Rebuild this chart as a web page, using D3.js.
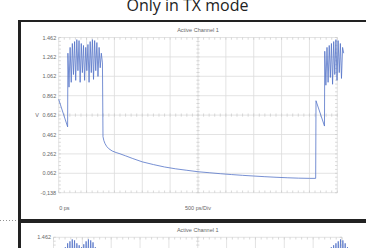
<!DOCTYPE html>
<html>
<head>
<meta charset="UTF-8">
<title>Only in TX mode</title>
<script src="https://d3js.org/d3.v7.min.js"></script>
<style>
  body { margin: 0; background: #fff; overflow: hidden; }
  svg { display: block; }
  .lbl { font-family: "Liberation Sans", Arial, sans-serif; font-size: 5.5px; fill: #666; }
</style>
</head>
<body>
<svg id="chart" width="366" height="248"></svg>
<script>
// y tick labels (volts) and x labels
var yTicks = [1.462, 1.262, 1.062, 0.862, 0.662, 0.462, 0.262, 0.062, -0.138];
var yTickLabels = ["1.462", "1.262", "1.062", "0.862", "0.662", "0.462", "0.262", "0.062", "-0,138"];
var xDivs = [0, 500, 1000, 1500, 2000, 2500, 3000, 3500, 4000, 4500, 5000];

// trace, [time ps, volts]
var rampStart = [[0, 0.824], [160, 0.541]];
var burst1 = [
  [165, 1.30], [185, 0.95], [205, 1.36], [225, 1.00], [245, 1.40], [265, 1.08],
  [285, 1.42], [305, 1.02], [325, 1.44], [345, 1.12], [365, 1.43], [385, 1.00],
  [405, 1.40], [425, 1.10], [445, 1.38], [465, 1.02], [485, 1.36], [505, 1.12],
  [525, 1.39], [545, 1.00], [565, 1.42], [585, 1.10], [605, 1.44], [625, 1.03],
  [645, 1.43], [665, 1.12], [685, 1.41], [705, 1.06], [725, 1.36], [745, 1.15],
  [765, 1.30], [785, 1.20]
];
var decay = [
  [795, 0.44], [810, 0.40], [830, 0.37], [860, 0.34], [900, 0.315], [960, 0.292],
  [1030, 0.276], [1100, 0.263], [1200, 0.242], [1330, 0.214], [1500, 0.180],
  [1700, 0.152], [1900, 0.127], [2100, 0.108], [2300, 0.093], [2500, 0.078],
  [2700, 0.068], [2900, 0.058], [3100, 0.049], [3300, 0.041], [3500, 0.034],
  [3700, 0.027], [3900, 0.021], [4100, 0.016], [4300, 0.012], [4500, 0.010],
  [4612, 0.010]
];
var rampEnd = [[4618, 0.81], [4770, 0.549]];
var burst2 = [
  [4775, 1.32], [4795, 0.97], [4815, 1.36], [4835, 1.00], [4855, 1.38], [4875, 1.05],
  [4895, 1.40], [4915, 0.98], [4935, 1.42], [4955, 1.08], [4975, 1.44], [4995, 1.02],
  [5015, 1.43], [5035, 1.10], [5055, 1.40], [5075, 1.04], [5095, 1.36], [5115, 1.30]
];
var trace = rampStart.concat(burst1, decay, rampEnd, burst2);

var svg = d3.select("#chart");

// page title, cut off at the top
svg.append("text")
  .attr("x", 187.5).attr("y", 10.5)
  .attr("text-anchor", "middle")
  .style("font-family", "'Open Sans', sans-serif")
  .style("font-size", "16px")
  .style("fill", "#222")
  .text("Only in TX mode");

function drawPanel(left, right, top, titleY) {
  var pxPerV = 97;
  var x = d3.scaleLinear().domain([0, 5000]).range([left, right]);
  var y = d3.scaleLinear().domain([-0.138, 1.462]).range([top + 1.6 * pxPerV, top]);
  var g = svg.append("g");

  // grid
  g.selectAll(".vg").data(xDivs).enter().append("line")
    .attr("x1", d => x(d)).attr("x2", d => x(d))
    .attr("y1", y(1.462)).attr("y2", y(-0.138))
    .attr("stroke", "#dcdcdc").attr("stroke-width", 0.8);
  g.selectAll(".hg").data(yTicks).enter().append("line")
    .attr("x1", x(0)).attr("x2", x(5000))
    .attr("y1", d => y(d)).attr("y2", d => y(d))
    .attr("stroke", "#dcdcdc").attr("stroke-width", 0.8);

  // minor ticks, 5 per division
  var minorX = d3.range(0, 5001, 100);
  var minorY = d3.range(0, 41).map(i => -0.138 + i * 0.04);
  var tk = "#c8c8c8";
  minorX.forEach(function(t) {
    var xx = x(t);
    g.append("line").attr("x1", xx).attr("x2", xx).attr("y1", y(1.462)).attr("y2", y(1.462) + 2.2).attr("stroke", tk).attr("stroke-width", 0.7);
    g.append("line").attr("x1", xx).attr("x2", xx).attr("y1", y(-0.138)).attr("y2", y(-0.138) - 2.2).attr("stroke", tk).attr("stroke-width", 0.7);
    g.append("line").attr("x1", xx).attr("x2", xx).attr("y1", y(0.662) - 1.6).attr("y2", y(0.662) + 1.6).attr("stroke", tk).attr("stroke-width", 0.7);
  });
  minorY.forEach(function(v) {
    var yy = y(v);
    g.append("line").attr("x1", x(0)).attr("x2", x(0) + 2.2).attr("y1", yy).attr("y2", yy).attr("stroke", tk).attr("stroke-width", 0.7);
    g.append("line").attr("x1", x(5000)).attr("x2", x(5000) - 2.2).attr("y1", yy).attr("y2", yy).attr("stroke", tk).attr("stroke-width", 0.7);
    g.append("line").attr("x1", x(2500) - 1.6).attr("x2", x(2500) + 1.6).attr("y1", yy).attr("y2", yy).attr("stroke", tk).attr("stroke-width", 0.7);
  });

  // y labels
  g.selectAll(".yl").data(yTicks).enter().append("text")
    .attr("class", "lbl")
    .attr("x", x(0) - 2.5).attr("y", d => y(d) + 2)
    .attr("text-anchor", "end")
    .text((d, i) => yTickLabels[i]);
  g.append("text").attr("class", "lbl")
    .attr("x", x(0) - 23.5).attr("y", y(0.662) + 2)
    .text("V");

  g.append("text").attr("class", "lbl")
    .attr("x", x(2500)).attr("y", titleY)
    .attr("text-anchor", "middle")
    .text("Active Channel 1");
  g.append("text").attr("class", "lbl")
    .attr("x", x(0) + 0.5).attr("y", y(-0.138) + 17)
    .text("0 ps");
  g.append("text").attr("class", "lbl")
    .attr("x", x(2500)).attr("y", y(-0.138) + 17)
    .attr("text-anchor", "middle")
    .text("500 ps/Div");

  // waveform
  var line = d3.line().x(d => x(d[0])).y(d => y(d[1]));
  g.append("path")
    .datum(trace)
    .attr("d", line)
    .attr("fill", "none")
    .attr("stroke", "#5474c8")
    .attr("stroke-width", 0.8)
    .attr("stroke-linejoin", "round");
}

drawPanel(58.7, 337.3, 37.5, 32);
drawPanel(53.5, 342, 237.3, 231.5);

// dark frame around the screenshots
svg.append("rect").attr("x", 18).attr("y", 20).attr("width", 348).attr("height", 2).attr("fill", "#222");
svg.append("rect").attr("x", 18).attr("y", 20).attr("width", 3).attr("height", 228).attr("fill", "#222");
svg.append("rect").attr("x", 18).attr("y", 219).attr("width", 348).attr("height", 4).attr("fill", "#222");
svg.append("line")
  .attr("x1", 0).attr("x2", 16).attr("y1", 220.5).attr("y2", 220.5)
  .attr("stroke", "#777").attr("stroke-width", 0.8).attr("stroke-dasharray", "1,2");
</script>
</body>
</html>
